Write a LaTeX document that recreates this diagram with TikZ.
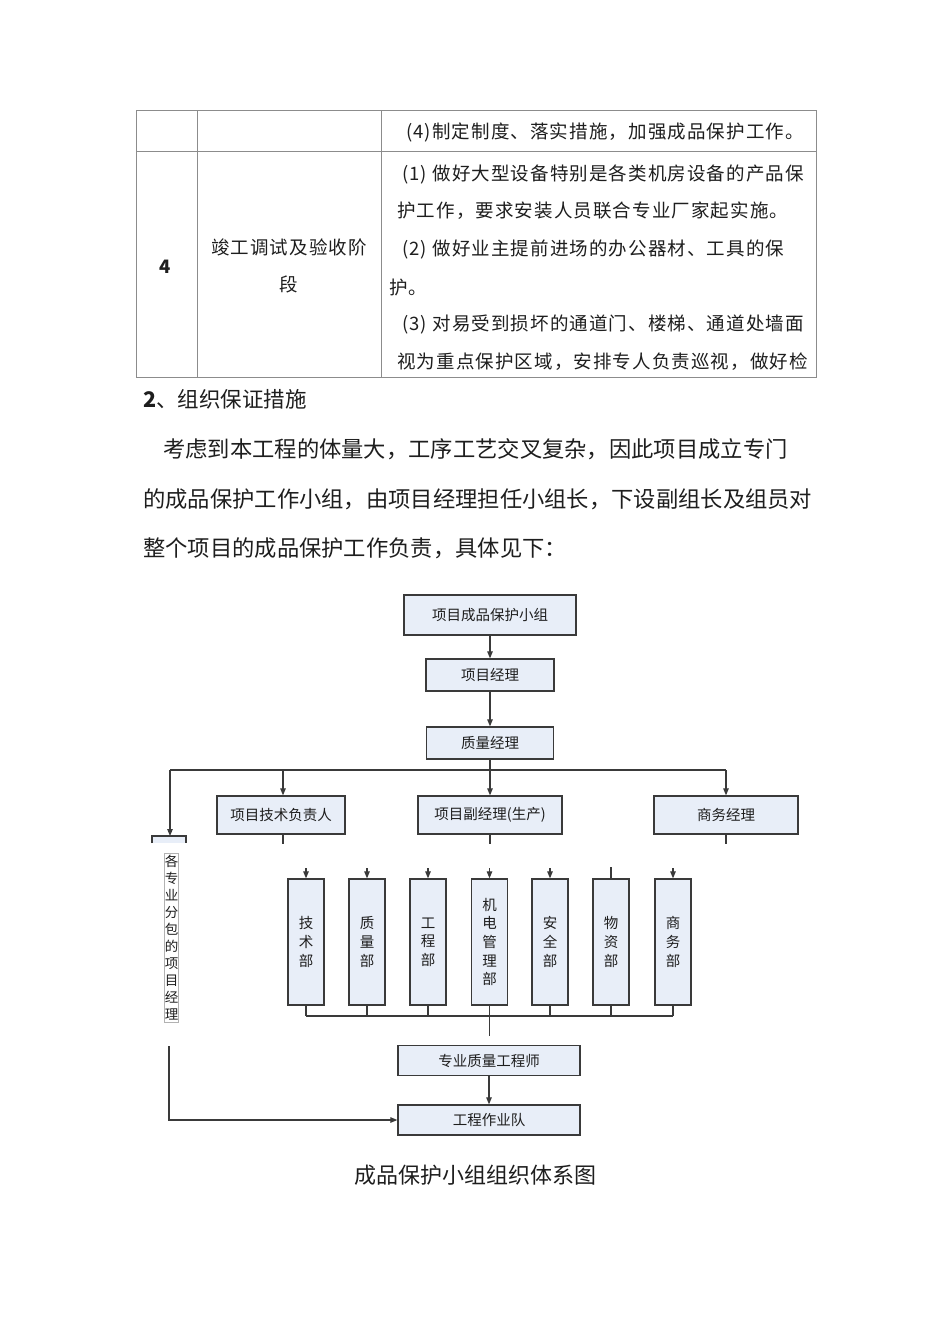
\documentclass[tikz,border=0pt]{standalone}
\usepackage{fontspec}
\setmainfont{Noto Sans CJK SC}
\usetikzlibrary{arrows.meta,calc}
\definecolor{boxfill}{HTML}{E8EEF8}
\definecolor{boxline}{HTML}{3A3A3A}
\definecolor{tabline}{HTML}{8C8C8C}
\definecolor{ink}{HTML}{1E1E1E}
\begin{document}
\begin{tikzpicture}[x=1pt,y=-1pt,
 box/.style={draw=boxline,line width=1.3pt,fill=boxfill,inner sep=0pt,font=\fontsize{14.5}{14.5}\selectfont,text=ink},
 dept/.style={box,minimum width=36pt,minimum height=126pt,align=center,font=\fontsize{14.5}{18.6}\selectfont},
 conn/.style={draw=boxline,line width=1.1pt},
 arr/.style={conn,-{Triangle[length=7pt,width=5.5pt]}},
 tabrule/.style={draw=tabline,line width=1pt},
 celltext/.style={inner sep=0pt,anchor=west,font=\fontsize{18.5}{18.5}\selectfont\addfontfeature{LetterSpace=6},text=ink},
 para/.style={inner sep=0pt,anchor=west,font=\fontsize{22.3}{22.3}\selectfont,text=ink}]
\useasboundingbox[fill=white] (0,0) rectangle (950,1344);

% ---------- table ----------
\draw[tabrule] (136,110) rectangle (816,377);
\draw[tabrule] (136,151) -- (816,151);
\draw[tabrule] (197,110) -- (197,377);
\draw[tabrule] (381,110) -- (381,377);
\node[celltext] (r0) at (406,132) {(4)制定制度、落实措施，加强成品保护工作。};
\node[celltext,anchor=center] (num) at (166,267) {\textbf{4}};
\node[celltext,anchor=center] (st1) at (289,247) {竣工调试及验收阶};
\node[celltext,anchor=center] (st2) at (289,284) {段};
\node[celltext] (c1) at (402,174) {(1) 做好大型设备特别是各类机房设备的产品保};
\node[celltext] (c2) at (397,211) {护工作，要求安装人员联合专业厂家起实施。};
\node[celltext] (c3) at (402,249) {(2) 做好业主提前进场的办公器材、工具的保};
\node[celltext] (c4) at (389,287) {护。};
\node[celltext] (c5) at (402,325) {(3) 对易受到损坏的通道门、楼梯、通道处墙面};
\node[celltext] (c6) at (397,362) {视为重点保护区域，安排专人负责巡视，做好检};

% ---------- text ----------
\node[inner sep=0pt,anchor=west,font=\fontsize{21.5}{21.5}\selectfont,text=ink] (h2) at (143,399) {\textbf{2}、组织保证措施};
\node[para] (p1) at (163,449) {考虑到本工程的体量大，工序工艺交叉复杂，因此项目成立专门};
\node[para] (p2) at (143,499) {的成品保护工作小组，由项目经理担任小组长，下设副组长及组员对};
\node[para] (p3) at (143,548) {整个项目的成品保护工作负责，具体见下：};

% ---------- chart ----------
\node[box,minimum width=172pt,minimum height=40pt] (g) at (490,615) {项目成品保护小组};
\node[box,minimum width=128pt,minimum height=32pt] (pm) at (490,675) {项目经理};
\node[box,minimum width=127pt,minimum height=32pt] (qm) at (490,743) {质量经理};
\node[box,minimum width=128pt,minimum height=38pt] (tech) at (281,815) {项目技术负责人};
\node[box,minimum width=144pt,minimum height=38pt] (dep) at (490,815) {项目副经理(生产)};
\node[box,minimum width=144pt,minimum height=38pt] (biz) at (726,815) {商务经理};

\coordinate (busL) at (170,770);
\coordinate (busM) at (490,770);
\coordinate (busR) at (726,770);
\coordinate (techA) at (283,770);
\coordinate (subtop) at (170,836);

\draw[arr] (g) -- (pm);
\draw[arr] (pm) -- (qm);
\draw[conn] (qm.south) -- (busM);
\draw[conn] (busL) -- (busR);
\draw[arr] (busM) -- (dep.north);
\draw[arr] (busR) -- (biz.north);
\draw[arr] (techA) -- (techA |- tech.north);
\draw[arr] (busL) -- (subtop);

% truncated top of the sub-contractor box
\fill[boxfill] (152,836) rectangle (186,843);
\draw[boxline,line width=1.3pt] (152,843) -- (152,836) -- (186,836) -- (186,843);
\node[draw=gray!60,line width=0.6pt,inner sep=0pt,minimum width=13pt,minimum height=169pt,align=center,font=\fontsize{13.5}{17}\selectfont,text=ink] (sub) at (171.5,937.5) {各\\专\\业\\分\\包\\的\\项\\目\\经\\理};

% stubs below second-level boxes
\draw[conn] (techA |- tech.south) -- ++(0,9);
\draw[conn] (dep.south) -- ++(0,9);
\draw[conn] (biz.south) -- ++(0,9);

% departments
\node[dept] (d1) at (306,942) {技\\术\\部};
\node[dept] (d2) at (367,942) {质\\量\\部};
\node[dept] (d3) at (428,942) {工\\程\\部};
\node[dept] (d4) at (489.5,942) {机\\电\\管\\理\\部};
\node[dept] (d5) at (550,942) {安\\全\\部};
\node[dept] (d6) at (611,942) {物\\资\\部};
\node[dept] (d7) at (673,942) {商\\务\\部};

\foreach \d in {d1,d2,d3,d4,d5,d7}{
  \draw[arr] ([yshift=10pt]\d.north) -- (\d.north);
}
\draw[conn] ([yshift=11pt]d6.north) -- (d6.north);

\coordinate (bb) at (489.5,1016);
\foreach \d in {d1,d2,d3,d4,d5,d6,d7}{
  \draw[conn] (\d.south) -- (\d.south |- bb);
}
\draw[conn] (d1.south |- bb) -- (d7.south |- bb);
\draw[conn] (bb) -- ++(0,20);

\node[box,minimum width=182pt,minimum height=30pt] (sqe) at (489,1060.5) {专业质量工程师};
\node[box,minimum width=182pt,minimum height=30pt] (team) at (489,1120) {工程作业队};
\draw[arr] (sqe) -- (team);

\coordinate (lstart) at (169,1046);
\draw[arr] (lstart) -- (lstart |- team.west) -- (team.west);

\node[inner sep=0pt,font=\fontsize{22}{22}\selectfont,text=ink] (cap) at (475.5,1175) {成品保护小组组织体系图};
\end{tikzpicture}
\end{document}
